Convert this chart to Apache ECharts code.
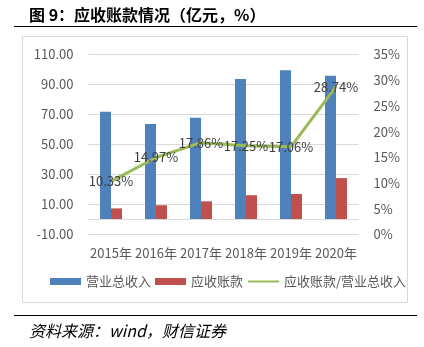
<!DOCTYPE html>
<html><head><meta charset="utf-8">
<script src="https://cdn.jsdelivr.net/npm/echarts@6/dist/echarts.min.js"></script>
<style>html,body{margin:0;padding:0;background:#fff}#c{width:424px;height:347px}</style>
</head><body><div id="c"></div>
<script>
const categories = ['2015年','2016年','2017年','2018年','2019年','2020年'];
const revenue = [71.8, 63.6, 67.8, 93.7, 99.5, 95.9];
const receivables = [7.4, 9.5, 12.1, 16.2, 17.0, 27.6];
const ratio = [10.33, 14.97, 17.86, 17.25, 17.06, 28.74];
const seriesNames = ['营业总收入', '应收账款', '应收账款/营业总收入'];

const FONT = '"Noto Sans CJK SC", "Noto Sans", sans-serif';
const chart = echarts.init(document.getElementById('c'));
chart.setOption({
  animation: false,
  textStyle: { fontFamily: FONT },
  title: [
    { text: '图 9：应收账款情况（亿元，%）', left: 24, top: 2,
      textStyle: { fontSize: 16, fontWeight: 'bold', color: '#000', fontFamily: FONT } },
    { text: '资料来源：wind，财信证券', left: 24, top: 318,
      textStyle: { fontSize: 16, fontWeight: 'normal', fontStyle: 'italic', color: '#000', fontFamily: FONT } }
  ],
  graphic: [
    { type: 'line', shape: { x1: 14, y1: 26.5, x2: 417, y2: 26.5 }, style: { stroke: '#000', lineWidth: 1.2 }, silent: true },
    { type: 'line', shape: { x1: 14, y1: 315.5, x2: 417, y2: 315.5 }, style: { stroke: '#000', lineWidth: 1.2 }, silent: true },
    { type: 'rect', shape: { x: 22.5, y: 36.5, width: 385, height: 266 }, style: { fill: 'none', stroke: '#D9D9D9', lineWidth: 1 }, silent: true }
  ],
  legend: {
    left: 45, top: 270, itemWidth: 31, itemHeight: 7, itemGap: 4,
    textStyle: { fontSize: 13, color: '#595959', fontFamily: FONT },
    data: [
      { name: seriesNames[0], icon: 'rect' },
      { name: seriesNames[1], icon: 'rect' },
      { name: seriesNames[2], itemStyle: { opacity: 0 } }
    ]
  },
  grid: { left: 88.5, top: 54.5, width: 270, height: 180 },
  xAxis: {
    type: 'category', data: categories,
    axisLine: { show: false, onZero: false }, axisTick: { show: false },
    axisLabel: { color: '#595959', fontSize: 13, margin: 12, interval: 0 }
  },
  yAxis: [
    { type: 'value', min: -10, max: 110, interval: 20,
      axisLine: { show: false }, axisTick: { show: false },
      axisLabel: { color: '#595959', fontSize: 13, margin: 15, formatter: v => v.toFixed(2) },
      splitLine: { lineStyle: { color: '#D9D9D9', width: 1 } } },
    { type: 'value', min: 0, max: 35, interval: 5,
      axisLine: { show: false }, axisTick: { show: false },
      axisLabel: { color: '#595959', fontSize: 13, margin: 15, formatter: '{value}%' },
      splitLine: { show: false } }
  ],
  series: [
    { name: seriesNames[0], type: 'bar', data: revenue, barWidth: 11, barGap: '0%',
      itemStyle: { color: '#4F81BD' },
      markLine: { silent: true, symbol: 'none', label: { show: false },
        lineStyle: { color: '#D9D9D9', type: 'solid', width: 1 }, data: [{ yAxis: 0 }] } },
    { name: seriesNames[1], type: 'bar', data: receivables, barWidth: 11, barGap: '0%',
      itemStyle: { color: '#C0504D' } },
    { name: seriesNames[2], type: 'line', yAxisIndex: 1, data: ratio,
      symbol: 'circle', symbolSize: 1, showSymbol: true,
      lineStyle: { color: '#9BBB59', width: 3 }, itemStyle: { color: '#9BBB59' },
      label: { show: true, position: 'inside', color: '#404040', fontSize: 13,
        formatter: p => p.value.toFixed(2) + '%' }, z: 5 }
  ]
});
</script></body></html>
